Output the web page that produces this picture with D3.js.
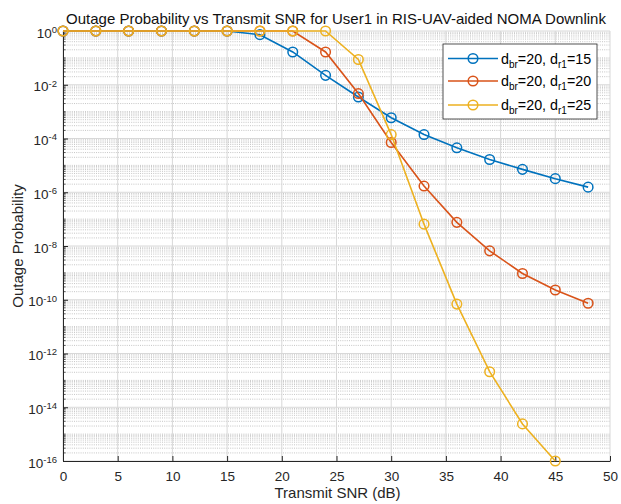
<!DOCTYPE html>
<html>
<head>
<meta charset="utf-8">
<script src="https://cdn.jsdelivr.net/npm/d3@7/dist/d3.min.js"></script>
<style>
  html, body { margin: 0; padding: 0; background: #fff; }
  svg { display: block; font-family: "Liberation Sans", Arial, Helvetica, sans-serif; }
</style>
</head>
<body>
<svg id="chart" width="621" height="504"></svg>
<script>
// Transmit SNR sweep (dB)
const snr = [0, 3, 6, 9, 12, 15, 18, 21, 24, 27, 30, 33, 36, 39, 42, 45, 48];

// Outage probability per distance setting
const outageR15 = [1, 1, 1, 1, 1, 1, 0.73, 0.166, 2.24e-2, 3.5e-3, 5.9e-4, 1.4e-4, 4.5e-5, 1.66e-5, 7.1e-6, 3.2e-6, 1.55e-6];
const outageR20 = [1, 1, 1, 1, 1, 1, 1, 1, 0.166, 4.7e-3, 7.1e-5, 1.7e-6, 7.6e-8, 6.6e-9, 9.5e-10, 2.3e-10, 7.4e-11];
const outageR25 = [1, 1, 1, 1, 1, 1, 1, 1, 1, 8.7e-2, 1.4e-4, 6.5e-8, 6.9e-11, 2.1e-13, 2.4e-15, 1e-16];

const seriesNames = ["15", "20", "25"];
const seriesColors = ["#0072BD", "#D95319", "#EDB120"];

const xTicks = [0, 5, 10, 15, 20, 25, 30, 35, 40, 45, 50];
const yTickExps = [0, -2, -4, -6, -8, -10, -12, -14, -16];

const titleText = "Outage Probability vs Transmit SNR for User1 in RIS-UAV-aided NOMA Downlink";
const xLabel = "Transmit SNR (dB)";
const yLabel = "Outage Probability";

const svg = d3.select("#chart");
const L = 63, R = 610, T = 31, B = 461;
const axisColor = "#262626";
const tickFont = 13.5;

const x = d3.scaleLinear().domain([0, 50]).range([L, R]);
const y = d3.scaleLog().domain([1e-16, 1]).range([B, T]);

// Minor decade subdivisions (1..9 x 10^k), skipping labelled decades
const minorVals = [];
for (let k = -16; k < 0; k++) {
  for (let m = 1; m <= 9; m++) {
    const v = m * Math.pow(10, k);
    if (!(m === 1 && k % 2 === 0)) minorVals.push(v);
  }
}

const grid = svg.append("g");
grid.selectAll("line.minor").data(minorVals).join("line")
  .attr("x1", L).attr("x2", R)
  .attr("y1", d => y(d)).attr("y2", d => y(d))
  .attr("stroke", "#b8b8b8").attr("stroke-width", 0.8)
  .attr("stroke-dasharray", "1,1.2");
grid.selectAll("line.hmajor").data(yTickExps).join("line")
  .attr("x1", L).attr("x2", R)
  .attr("y1", d => y(Math.pow(10, d))).attr("y2", d => y(Math.pow(10, d)))
  .attr("stroke", "#d8d8d8").attr("stroke-width", 1);
grid.selectAll("line.vmajor").data(xTicks).join("line")
  .attr("x1", d => x(d)).attr("x2", d => x(d))
  .attr("y1", T).attr("y2", B)
  .attr("stroke", "#d8d8d8").attr("stroke-width", 1);

// Axes with inward ticks
const xAxis = svg.append("g").attr("transform", `translate(0,${B})`)
  .call(d3.axisBottom(x).tickValues(xTicks).tickSize(-5).tickSizeOuter(0).tickPadding(10).tickFormat(d3.format("d")));
xAxis.select(".domain").attr("stroke", axisColor);
xAxis.selectAll(".tick line").attr("stroke", axisColor);
xAxis.selectAll("text").attr("fill", axisColor).attr("font-size", tickFont)
  .attr("font-family", "Liberation Sans, Arial, sans-serif");

const yAxis = svg.append("g").attr("transform", `translate(${L},0)`)
  .call(d3.axisLeft(y).tickValues(yTickExps.map(e => Math.pow(10, e))).tickSize(-5).tickSizeOuter(0).tickPadding(6).tickFormat(""));
yAxis.select(".domain").attr("stroke", axisColor);
yAxis.selectAll(".tick line").attr("stroke", axisColor);
yAxis.selectAll(".tick text").each(function(d) {
  const t = d3.select(this).attr("fill", axisColor).attr("font-size", tickFont)
    .attr("font-family", "Liberation Sans, Arial, sans-serif").attr("dy", "0.45em");
  t.text(null);
  t.append("tspan").text("10");
  t.append("tspan").attr("dy", "-0.5em").attr("font-size", 9.5).text(String(Math.round(Math.log10(d))));
});
// minor ticks on the log axis
yAxis.selectAll("line.mtick").data(minorVals).join("line")
  .attr("x1", 0).attr("x2", 2.5)
  .attr("y1", d => y(d)).attr("y2", d => y(d))
  .attr("stroke", axisColor).attr("stroke-width", 0.8);

// Data series
svg.append("clipPath").attr("id", "plotclip").append("rect")
  .attr("x", L - 8).attr("y", T - 8).attr("width", R - L + 16).attr("height", B - T + 16);

const allSeries = [outageR15, outageR20, outageR25];
const line = d3.line().x(d => x(d[0])).y(d => y(d[1]));
const plot = svg.append("g").attr("clip-path", "url(#plotclip)");
allSeries.forEach((vals, i) => {
  const pts = vals.map((v, j) => [snr[j], v]);
  plot.append("path").datum(pts)
    .attr("d", line).attr("fill", "none")
    .attr("stroke", seriesColors[i]).attr("stroke-width", 1.6);
  plot.selectAll(null).data(pts).join("circle")
    .attr("cx", d => x(d[0])).attr("cy", d => y(d[1])).attr("r", 4.8)
    .attr("fill", "none").attr("stroke", seriesColors[i]).attr("stroke-width", 1.5);
});

// Title and axis labels
svg.append("text").attr("x", 336).attr("y", 23.5)
  .attr("text-anchor", "middle").attr("font-size", 15).attr("fill", "#111")
  .text(titleText);
svg.append("text").attr("x", 337.5).attr("y", 497.5)
  .attr("text-anchor", "middle").attr("font-size", 15).attr("fill", axisColor)
  .text(xLabel);
svg.append("text").attr("transform", `translate(22.5,${(T + B) / 2}) rotate(-90)`)
  .attr("text-anchor", "middle").attr("font-size", 15).attr("fill", axisColor)
  .text(yLabel);

// Legend
const lg = svg.append("g").attr("transform", "translate(443,44)");
lg.append("rect").attr("x", 0).attr("y", 0).attr("width", 154).attr("height", 75)
  .attr("fill", "#fff").attr("stroke", axisColor).attr("stroke-width", 0.8);
const rowY = [14.5, 37, 61];
seriesNames.forEach((n, i) => {
  const g = lg.append("g").attr("transform", `translate(0,${rowY[i]})`);
  g.append("line").attr("x1", 5).attr("x2", 55).attr("y1", 0).attr("y2", 0)
    .attr("stroke", seriesColors[i]).attr("stroke-width", 1.6);
  g.append("circle").attr("cx", 30).attr("cy", 0).attr("r", 4.8)
    .attr("fill", "none").attr("stroke", seriesColors[i]).attr("stroke-width", 1.5);
  const t = g.append("text").attr("x", 58).attr("y", 5).attr("font-size", 14.3).attr("fill", "#000");
  t.append("tspan").text("d");
  t.append("tspan").attr("dy", 4).attr("font-size", 10).text("br");
  t.append("tspan").attr("dy", -4).text("=20, d");
  t.append("tspan").attr("dy", 4).attr("font-size", 10).text("r1");
  t.append("tspan").attr("dy", -4).text("=" + n);
});
</script>
</body>
</html>
